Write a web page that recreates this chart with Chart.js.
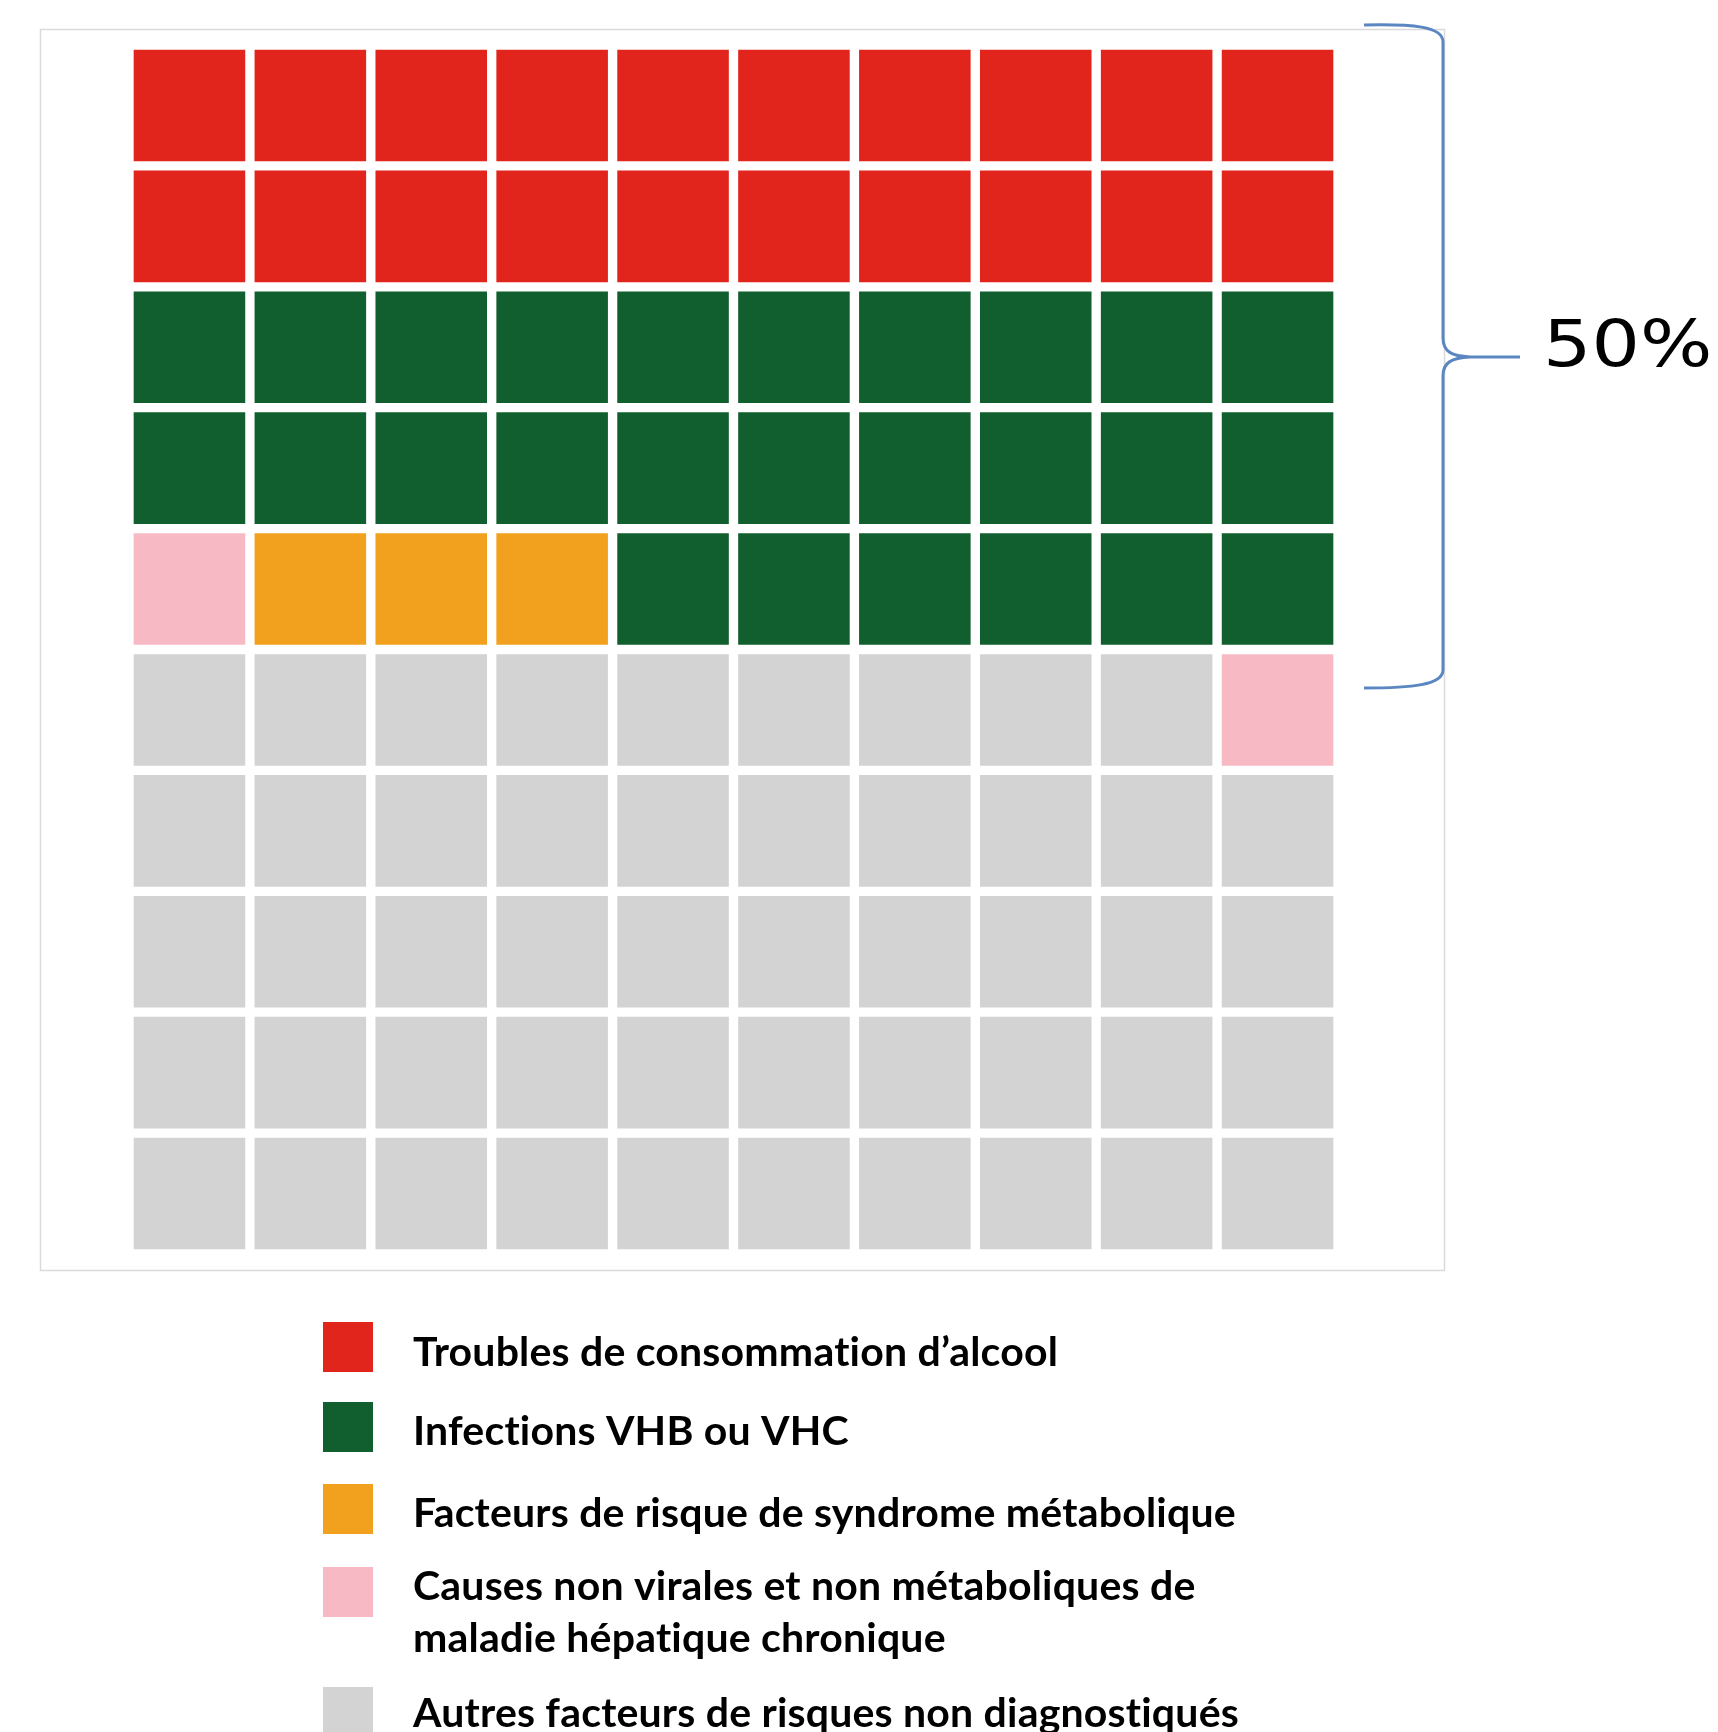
<!DOCTYPE html>
<html>
<head>
<meta charset="utf-8">
<script src="https://cdn.jsdelivr.net/npm/chart.js@4.4.1/dist/chart.umd.min.js"></script>
<style>
  html, body { margin: 0; padding: 0; background: #fff; }
  #wrap { width: 1718px; height: 1732px; }
</style>
</head>
<body>
<div id="wrap"><canvas id="myChart" width="1718" height="1732"></canvas></div>
<script>
const categories = [
    'Troubles de consommation d’alcool',
    'Infections VHB ou VHC',
    'Facteurs de risque de syndrome métabolique',
    ['Causes non virales et non métaboliques de', 'maladie hépatique chronique'],
    'Autres facteurs de risques non diagnostiqués',
];
const categoryColors = ['#E2251C', '#115F2E', '#F2A11F', '#F7BAC5', '#D3D3D3'];

const columns = ['1','2','3','4','5','6','7','8','9','10'];

// waffle rows, top to bottom; each number is an index in categories (1 cell = 1%)
const waffleRows = [
    [0,0,0,0,0,0,0,0,0,0],
    [0,0,0,0,0,0,0,0,0,0],
    [1,1,1,1,1,1,1,1,1,1],
    [1,1,1,1,1,1,1,1,1,1],
    [3,2,2,2,1,1,1,1,1,1],
    [4,4,4,4,4,4,4,4,4,3],
    [4,4,4,4,4,4,4,4,4,4],
    [4,4,4,4,4,4,4,4,4,4],
    [4,4,4,4,4,4,4,4,4,4],
    [4,4,4,4,4,4,4,4,4,4],
];

const bracketLabel = '50%';

// stacked bars: first dataset sits at the bottom, so go from the last row up
const datasets = waffleRows.slice().reverse().map((row, i) => ({
    label: 'row ' + (waffleRows.length - i),
    data: row.map(() => 1),
    backgroundColor: row.map(c => categoryColors[c]),
    borderColor: '#ffffff',
    borderWidth: 5,
    borderSkipped: false,
    barPercentage: 1,
    categoryPercentage: 1,
}));

const extras = {
    id: 'extras',
    beforeDraw(chart) {
        const ctx = chart.ctx;
        ctx.save();
        ctx.strokeStyle = '#DADADA';
        ctx.lineWidth = 1.5;
        ctx.strokeRect(40.5, 29.5, 1404, 1241);
        ctx.restore();
    },
    afterDraw(chart) {
        const ctx = chart.ctx;
        ctx.save();

        // curly bracket round the top half
        ctx.strokeStyle = '#5A87C2';
        ctx.lineWidth = 3;
        ctx.beginPath();
        ctx.moveTo(1364, 25);
        ctx.bezierCurveTo(1412, 24, 1443, 26, 1443, 42);
        ctx.lineTo(1443, 338);
        ctx.bezierCurveTo(1443, 352, 1452, 356, 1470, 357);
        ctx.lineTo(1520, 357);
        ctx.moveTo(1470, 357);
        ctx.bezierCurveTo(1452, 358, 1443, 362, 1443, 376);
        ctx.lineTo(1443, 670);
        ctx.bezierCurveTo(1443, 685, 1412, 688, 1364, 688);
        ctx.stroke();

        ctx.fillStyle = '#000';
        ctx.font = '64px "DejaVu Sans"';
        ctx.textBaseline = 'alphabetic';
        ctx.translate(1543, 366);
        ctx.scale(1.19, 1);
        ctx.fillText(bracketLabel, 0, 0);
        ctx.setTransform(1, 0, 0, 1, 0, 0);

        // legend
        ctx.letterSpacing = '0.2px';
        ctx.font = 'bold 44px Lato';
        const w = ctx.measureText(categories[0]).width;
        const size = 44 * 644 / w;
        ctx.font = 'bold ' + size.toFixed(1) + 'px Lato';
        const boxTops = [1322, 1402, 1484, 1567, 1687];
        const baselines = [[1366], [1445], [1527], [1600, 1652], [1727]];
        categories.forEach((label, i) => {
            ctx.fillStyle = categoryColors[i];
            ctx.fillRect(323, boxTops[i], 50, 50);
            ctx.fillStyle = '#000';
            const lines = Array.isArray(label) ? label : [label];
            lines.forEach((line, j) => {
                ctx.fillText(line, 413, baselines[i][j]);
            });
        });
        ctx.restore();
    }
};

const config = {
    type: 'bar',
    data: { labels: columns, datasets: datasets },
    options: {
        responsive: false,
        animation: false,
        layout: { padding: { left: 129, top: 45, right: 380, bottom: 478 } },
        scales: {
            x: { stacked: true, display: false },
            y: { stacked: true, display: false, min: 0, max: 10 },
        },
        plugins: {
            legend: { display: false },
            tooltip: { enabled: false },
        },
    },
    plugins: [extras],
};

const myChart = new Chart(document.getElementById('myChart'), config);
</script>
</body>
</html>
